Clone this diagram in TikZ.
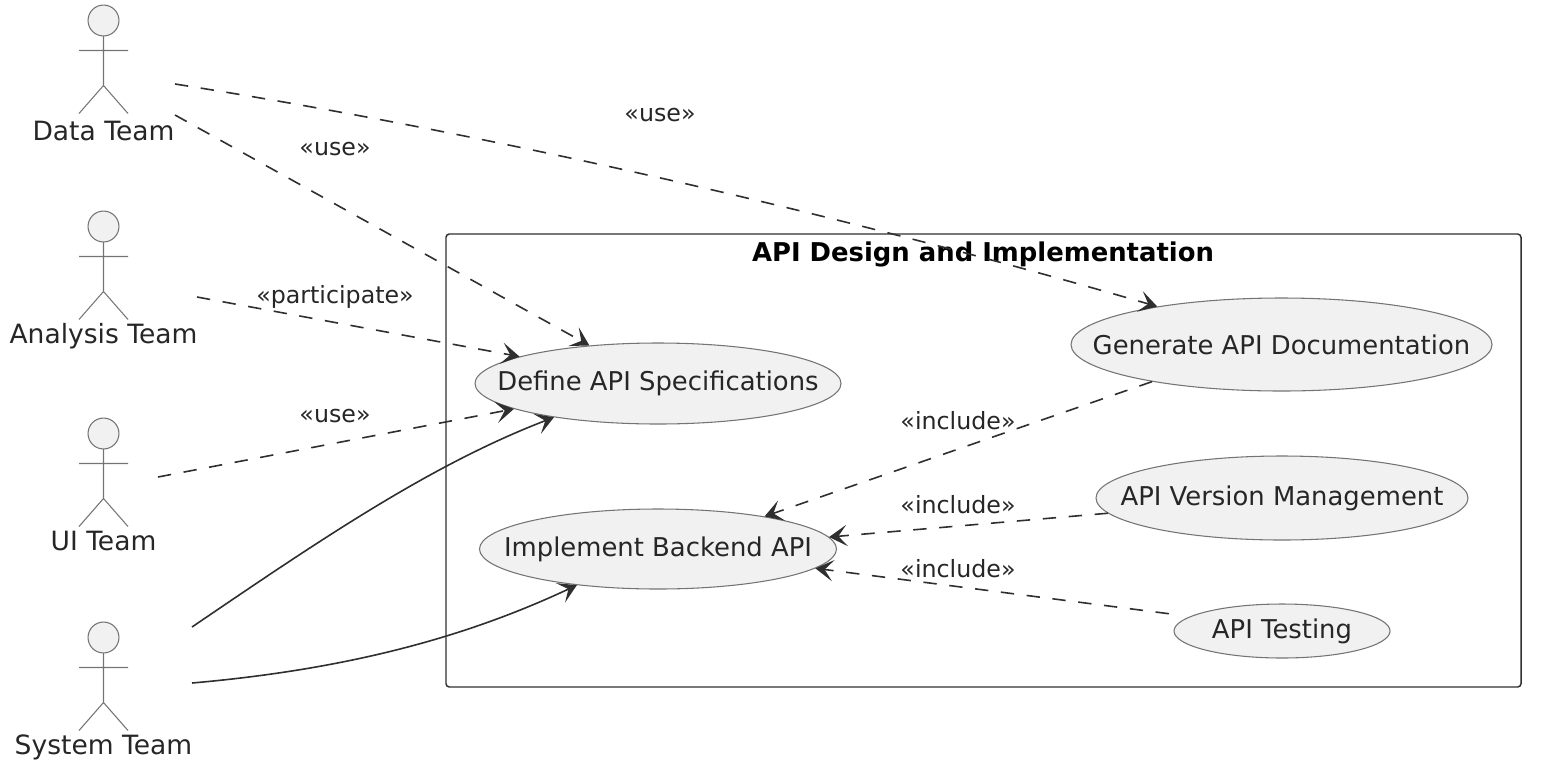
\documentclass[tikz,border=0pt]{standalone}
\usepackage{fontspec}
\setmainfont{DejaVu Sans}
\usetikzlibrary{arrows.meta,shapes.geometric}
\definecolor{ucfill}{HTML}{F1F1F1}
\definecolor{ucline}{HTML}{181818}
\tikzset{
  usecase/.style={ellipse,draw=ucline!60,fill=ucfill,line width=.8pt,inner sep=0pt,font=\fontsize{19.4}{20}\selectfont,text=black!85},
  actorname/.style={font=\fontsize{19.9}{20}\selectfont,text=black!85},
  linklabel/.style={font=\fontsize{17.8}{18}\selectfont,text=black!85},
  link/.style={draw=ucline!90,line width=1.2pt,-{Stealth[length=13.5pt,width=16pt,inset=6.5pt]}},
  dep/.style={link,dash pattern=on 10pt off 9.5pt},
  actor/.pic={
    \draw[ucline!60,fill=ucfill,line width=.8pt](0,0)circle[radius=11.6pt];
    \draw[ucline!60,line width=.8pt](0,15.5)--(0,65)(-24.5,30)--(24.5,30)(-24.5,93)--(0,65)--(24.5,93);
  }
}
\begin{document}
\begin{tikzpicture}[x=.75pt,y=-.75pt]
    \useasboundingbox (0,0) rectangle (1541,765);
    \draw[ucline!90,line width=1.1pt,rounded corners=2.5pt](446,234)rectangle(1521,687);
    \node[font=\bfseries\fontsize{19.4}{20}\selectfont] (boxtitle) at (983,254){API Design and Implementation};

    \pic at (103.5,20.5){actor};
    \pic at (103.5,226.5){actor};
    \pic at (103.5,433.5){actor};
    \pic at (103.5,637.5){actor};
    \node[actorname] (data) at (103.5,131){Data Team};
    \node[actorname] (analysis) at (103.5,336){Analysis Team};
    \node[actorname] (ui) at (103.5,541){UI Team};
    \node[actorname] (system) at (103.5,747){System Team};

    \node[usecase,minimum width=274.5pt,minimum height=60.75pt] (define) at (658,383.5){\makebox[0pt]{Define API Specifications}};
    \node[usecase,minimum width=267.75pt,minimum height=60pt] (implement) at (658,549){\makebox[0pt]{Implement Backend API}};
    \node[usecase,minimum width=315.75pt,minimum height=69.75pt] (generate) at (1281.5,344.5){\makebox[0pt]{Generate API Documentation}};
    \node[usecase,minimum width=279pt,minimum height=63pt] (version) at (1282,498){\makebox[0pt]{API Version Management}};
    \node[usecase,minimum width=162pt,minimum height=40.5pt] (testing) at (1282,631){\makebox[0pt]{API Testing}};

    \coordinate (dataA) at (175,84);
    \coordinate (dataB) at (175,115);
    \coordinate (analysisA) at (197,297);
    \coordinate (uiA) at (158,477);
    \coordinate (systemA) at (192,627);
    \coordinate (systemB) at (192,683);

    \draw[dep](dataA)..controls (500,135) and (850,217)..(generate.163.7);
    \draw[dep](dataB)--(define.151.9);
    \draw[dep](analysisA)--(define.169.5);
    \draw[dep](uiA)--(define.190.5);
    \draw[link](systemA)..controls (320,540) and (430,465)..(define.198.7);
    \draw[link](systemB)..controls (340,670) and (460,640)..(implement.204.8);
    \draw[dep](generate.196.3)--(implement.17.8);
    \draw[dep](version.185.3)--(implement.4.9);
    \draw[dep,shorten <=16pt](testing.171)--(implement.-7);

    \node[linklabel] (useA) at (660,115){«use»};
    \node[linklabel] (useB) at (335,149){«use»};
    \node[linklabel] (part) at (335,297){«participate»};
    \node[linklabel] (useC) at (335,416){«use»};
    \node[linklabel] (incA) at (958,421){«include»};
    \node[linklabel] (incB) at (958,505){«include»};
    \node[linklabel] (incC) at (958,569){«include»};
  \end{tikzpicture}
\end{document}
